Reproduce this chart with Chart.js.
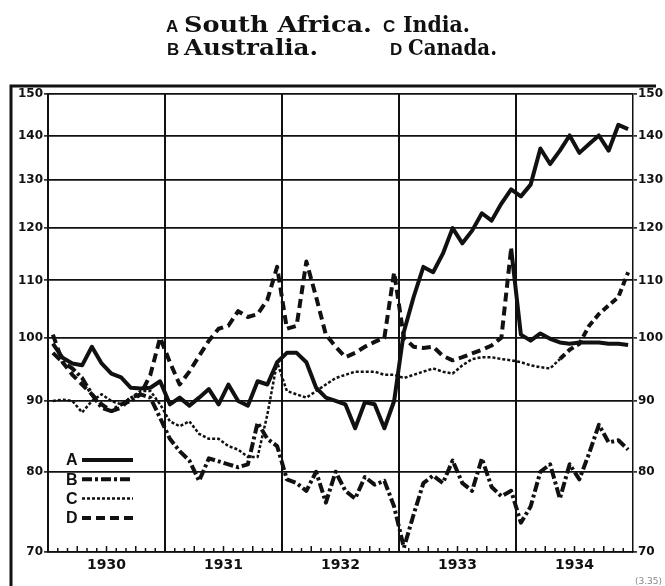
<!DOCTYPE html>
<html>
<head>
<meta charset="utf-8">
<script src="https://cdn.jsdelivr.net/npm/chart.js@4.4.1/dist/chart.umd.min.js"></script>
<style>
  html, body { margin: 0; padding: 0; background: #fff; }
  #wrap { width: 665px; height: 586px; }
</style>
</head>
<body>
<div id="wrap"><canvas id="chart" width="665" height="586"></canvas></div>
<script>
// ── Data (monthly index, Jan 1930 – Dec 1934) ────────────────
const years  = ['1930', '1931', '1932', '1933', '1934'];
const yTicks = [70, 80, 90, 100, 110, 120, 130, 140, 150];

const southAfrica = [
    99, 96.7, 95.8, 95.5, 98.5, 95.8, 94.2, 93.6, 92, 91.9, 92, 93,
    89.5, 90.5, 89.3, 90.5, 91.8, 89.5, 92.5, 90, 89.3, 93, 92.5, 96,
    97.5, 97.5, 96, 92, 90.5, 90, 89.5, 86, 89.8, 89.5, 86, 90,
    101, 107, 112.5, 111.5, 115, 120, 117, 119.5, 123, 121.5, 125, 128,
    126.5, 129, 137, 133.5, 136.5, 140, 136, 138, 140, 136.5, 142.5, 141.5
];
const australia = [
    97.5, 96, 95, 93.5, 91, 89, 88.5, 89.5, 90, 91, 90.5, 87.5,
    84.5, 82.8, 81.5, 78.8, 81.8, 81.4, 81, 80.6, 81, 86.8, 84.5, 83.5,
    79, 78.5, 77.5, 80, 76, 80, 77.5, 76.5, 79.3, 78.3, 78.8, 75.5,
    70.5, 74.5, 78.5, 79.5, 78.5, 81.5, 78.5, 77.5, 81.8, 78, 76.8, 77.5,
    73.5, 75.5, 80, 81, 76.5, 81, 79, 82.5, 86.5, 84, 84.3, 83
];
const india = [
    90, 90.2, 90, 88.3, 90, 91, 90, 89.5, 90.5, 91.5, 91.5, 89.5,
    87, 86.3, 87, 85.2, 84.5, 84.5, 83.5, 83, 82, 82, 88, 96,
    91.5, 91, 90.5, 91.5, 92.5, 93.5, 94, 94.5, 94.5, 94.5, 94, 94,
    93.5, 94, 94.5, 95, 94.5, 94.2, 95.5, 96.5, 96.8, 96.8, 96.5, 96.3,
    96, 95.5, 95.2, 95, 96.5, 98, 99, 102, 104, 105.5, 107, 111.5
];
const canada = [
    100.5, 96, 94, 92.5, 91, 89.5, 88.5, 89, 90.5, 91, 94, 100,
    96, 92.5, 94.5, 97, 99.5, 101.5, 102, 104.5, 103.5, 104, 106.5, 112.5,
    101.5, 102, 113.5, 107, 100.5, 98.5, 96.8, 97.5, 98.5, 99.3, 100, 111.5,
    100, 98.5, 98.3, 98.5, 97, 96.3, 96.8, 97.4, 98, 98.7, 100, 116,
    100.5, 99.5, 100.7, 99.8, 99.2, 99, 99.2, 99.2, 99.2, 99, 99, 98.8
];

const titleRows = [
    [['A', 'South Africa.'], ['C', 'India.']],
    [['B', 'Australia.'], ['D', 'Canada.']]
];
const legendKeys = ['A', 'B', 'C', 'D'];
const sourceNote = '(3.35)';

// month centre → x value
const toPoints = arr => arr.map((v, i) => ({ x: i + 0.5, y: v }));

// ── Decorations: frame, month ticks, key, title ──────────────
const decor = {
    id: 'decor',
    beforeDraw(chart) {
        const { ctx } = chart;
        ctx.save();
        ctx.fillStyle = '#fff';
        ctx.fillRect(0, 0, chart.width, chart.height);
        ctx.restore();
    },
    afterDraw(chart) {
        const { ctx, chartArea: a, scales: { x } } = chart;
        ctx.save();
        ctx.strokeStyle = '#111';
        ctx.fillStyle = '#111';

        // outer frame (left + top)
        ctx.lineWidth = 3;
        ctx.beginPath();
        ctx.moveTo(11, chart.height);
        ctx.lineTo(11, 86);
        ctx.lineTo(656, 86);
        ctx.stroke();

        // monthly ticks on the base line
        ctx.lineWidth = 1.5;
        for (let m = 1; m < 60; m++) {
            if (m % 12 === 0) continue;
            const px = x.getPixelForValue(m);
            ctx.beginPath();
            ctx.moveTo(px, a.bottom);
            ctx.lineTo(px, a.bottom - (m % 3 === 0 ? 6 : 4));
            ctx.stroke();
        }

        // key inside the plot
        chart.data.datasets.forEach((ds, i) => {
            const y = 460 + i * 19.3;
            ctx.font = 'bold 16px "Liberation Sans"';
            ctx.textBaseline = 'middle';
            ctx.textAlign = 'left';
            ctx.fillText(legendKeys[i], 66, y + 1);
            ctx.lineWidth = ds.borderWidth;
            ctx.setLineDash(ds.borderDash || []);
            ctx.beginPath();
            ctx.moveTo(82, y);
            ctx.lineTo(133, y);
            ctx.stroke();
            ctx.setLineDash([]);
        });

        // title, two rows, key letter then country name
        const baseY   = [32, 55];
        const letterX = [[166, 383], [167, 390]];
        const nameX   = [[184, 403], [184, 408]];
        const nameW   = [[188, 67], [134, 89]];
        titleRows.forEach((row, r) => {
            row.forEach(([key, name], c) => {
                ctx.textBaseline = 'alphabetic';
                ctx.font = 'bold 17px "Liberation Sans"';
                ctx.fillText(key, letterX[r][c], baseY[r]);
                ctx.font = 'bold 23px "DejaVu Serif"';
                const w = ctx.measureText(name).width;
                ctx.save();
                ctx.translate(nameX[r][c], baseY[r]);
                ctx.scale(nameW[r][c] / w, 1);
                ctx.fillText(name, 0, 0);
                ctx.restore();
            });
        });

        // faint plate number, bottom right
        ctx.fillStyle = '#888';
        ctx.font = '9px "DejaVu Sans"';
        ctx.textAlign = 'right';
        ctx.fillText(sourceNote, 662, 584);
        ctx.restore();
    }
};

// a series may change its printed style from a given month on
const lineStyle = (data, width, dash, after) => ({
    data: toPoints(data),
    borderColor: '#111',
    borderWidth: width,
    borderDash: dash,
    pointRadius: 0,
    tension: 0,
    borderJoinStyle: 'round',
    fill: false,
    segment: after ? {
        borderWidth: c => (c.p0.parsed.x >= after.from ? after.width : undefined),
        borderDash: c => (c.p0.parsed.x >= after.from ? after.dash : undefined)
    } : undefined
});

const yAxis = (pos, width) => ({
    type: 'logarithmic',
    position: pos,
    min: 70,
    max: 150,
    afterBuildTicks: s => { s.ticks = yTicks.map(v => ({ value: v })); },
    afterFit: s => { s.width = width; },
    ticks: {
        color: '#111',
        padding: 1,
        font: { family: 'DejaVu Sans', weight: 'bold', size: 12 },
        callback: v => String(v)
    },
    grid: {
        color: '#111',
        lineWidth: 1.8,
        drawOnChartArea: pos === 'left',
        tickLength: 4,
        tickWidth: 1.5
    },
    border: { display: true, color: '#111', width: pos === 'left' ? 2 : 1.5, dash: pos === 'left' ? [] : [8, 4] }
});

new Chart(document.getElementById('chart'), {
    type: 'line',
    data: {
        datasets: [
            lineStyle(southAfrica, 4, []),
            lineStyle(australia, 4, [10, 3, 3, 3]),
            lineStyle(india, 2.5, [3, 2], { from: 52.5, width: 4, dash: [7, 4] }),
            lineStyle(canada, 4, [9, 5], { from: 47.5, width: 4, dash: [] })
        ]
    },
    options: {
        responsive: false,
        animation: false,
        devicePixelRatio: 1,
        layout: { padding: { top: 94, left: 10, right: 0, bottom: 8 } },
        plugins: {
            legend: { display: false },
            tooltip: { enabled: false }
        },
        scales: {
            x: {
                type: 'linear',
                min: 0,
                max: 60,
                afterBuildTicks: s => {
                    s.ticks = [];
                    for (let v = 0; v <= 60; v += 6) s.ticks.push({ value: v });
                },
                afterFit: s => { s.height = 26; },
                ticks: {
                    color: '#111',
                    padding: 5,
                    maxRotation: 0,
                    autoSkip: false,
                    font: { family: 'DejaVu Sans', weight: 'bold', size: 14 },
                    callback: v => (v % 12 === 6 ? years[(v - 6) / 12] : '')
                },
                grid: {
                    drawTicks: false,
                    lineWidth: 2,
                    color: c => (c.tick && c.tick.value % 12 === 0 && c.tick.value > 0 && c.tick.value < 60 ? '#111' : 'rgba(0,0,0,0)')
                },
                border: { display: true, color: '#111', width: 1.5 }
            },
            y: yAxis('left', 38),
            y2: yAxis('right', 32)
        }
    },
    plugins: [decor]
});
</script>
</body>
</html>
